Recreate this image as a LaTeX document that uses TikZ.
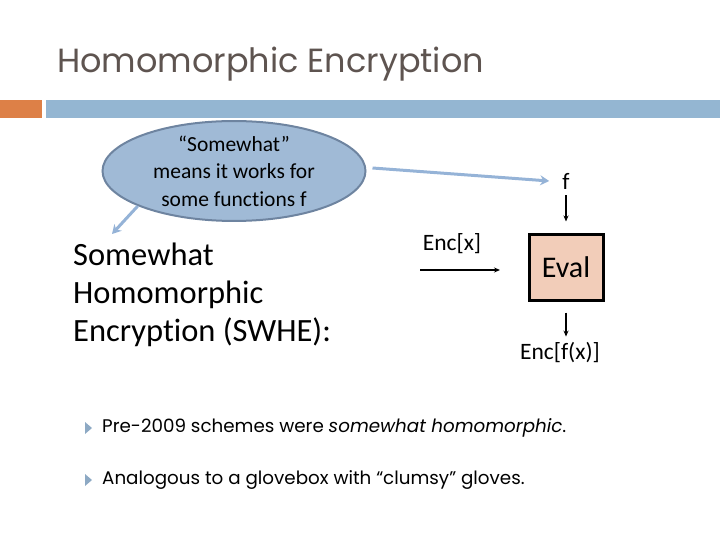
\documentclass[tikz,border=0pt]{standalone}
\usepackage{fontspec}
\setmainfont{Carlito}[Ligatures=NoCommon]
\newfontfamily\slidefont{Poppins}
\usetikzlibrary{arrows.meta,shapes.geometric}
\definecolor{titlegray}{RGB}{94,84,80}
\definecolor{barorange}{RGB}{221,128,71}
\definecolor{barblue}{RGB}{148,182,210}
\definecolor{bubble}{RGB}{160,186,214}
\definecolor{bubbleedge}{RGB}{110,132,160}
\definecolor{hintblue}{RGB}{149,179,215}
\definecolor{peach}{RGB}{242,205,185}
\definecolor{bulletblue}{RGB}{141,169,196}

\begin{document}
\begin{tikzpicture}[
  x=1pt,y=-1pt,
  title/.style={font=\slidefont\fontsize{33.5}{40}\selectfont,text=titlegray,anchor=base west,inner sep=0pt},
  bubbletext/.style={ellipse,draw=bubbleedge,line width=2pt,fill=bubble,
                     minimum width=263,minimum height=86,inner sep=0pt,
                     align=center,font=\fontsize{21.5}{27.5}\selectfont},
  hint/.style={-{Stealth[length=9pt,width=10pt]},line width=3pt,hintblue},
  flow/.style={-{Stealth[length=6pt,width=5pt]},line width=1.6pt,black},
  label/.style={font=\fontsize{23.5}{28}\selectfont,inner sep=0pt},
  evalbox/.style={draw,line width=3pt,fill=peach,minimum width=74,minimum height=66,
                  font=\fontsize{30}{34}\selectfont},
  bigtext/.style={font=\fontsize{32.5}{38}\selectfont,align=left,anchor=north west,inner sep=0pt},
  bullet/.style={font=\slidefont\fontsize{18.3}{22}\selectfont,anchor=west,inner sep=0pt},
]
\useasboundingbox (0,0) rectangle (720,540);

% ---- title and bar ----
\node[title] (head) at (57,73) {Homomorphic Encryption};
\fill[barorange] (0,100) rectangle (42,118);
\fill[barblue] (46,100) rectangle (720,118);

% ---- the bubble ----
\node[bubbletext] (bubble) at (234,171)
  {“Somewhat”\\means it works for\\some functions f};

\node[bigtext] (swhe) at (73,243)
  {Somewhat\\Homomorphic\\Encryption (SWHE):};

% ---- evaluation box ----
\node[evalbox] (eval) at (566,267) {Eval};
\node[label] (fin) at (566,181) {f};
\node[label] (encx) at (452,244) {Enc[x]};
\node[label] (encfx) at (560,353) {Enc[f(x)]};
\coordinate (xin) at (420,270);
\coordinate (xend) at (500,270);
\coordinate (encfxtop) at ([yshift=6pt]encfx.north);

\draw[flow] ([yshift=-6pt]fin.south) -- ([yshift=11pt]eval.north);
\draw[flow] (xin) -- (xend);
\draw[flow] ([yshift=-11pt]eval.south) -- (eval.south |- encfxtop);

% ---- bubble pointers ----
\coordinate (swhetip) at (112,234);
\draw[hint] (bubble.200) -- (swhetip);
\draw[hint] (bubble.east) ++(6,-3) -- ([xshift=-13pt]fin.west);

% ---- bullets ----
\foreach \y/\n in {428/a,480/b}{
  \fill[bulletblue] (85,\y-6) -- (92,\y) -- (85,\y+6) -- cycle;
}
\node[bullet] (pa) at (102,428) {Pre-2009 schemes were \textit{somewhat homomorphic}.};
\node[bullet] (pb) at (102,480) {Analogous to a glovebox with “clumsy” gloves.};

\end{tikzpicture}
\end{document}
